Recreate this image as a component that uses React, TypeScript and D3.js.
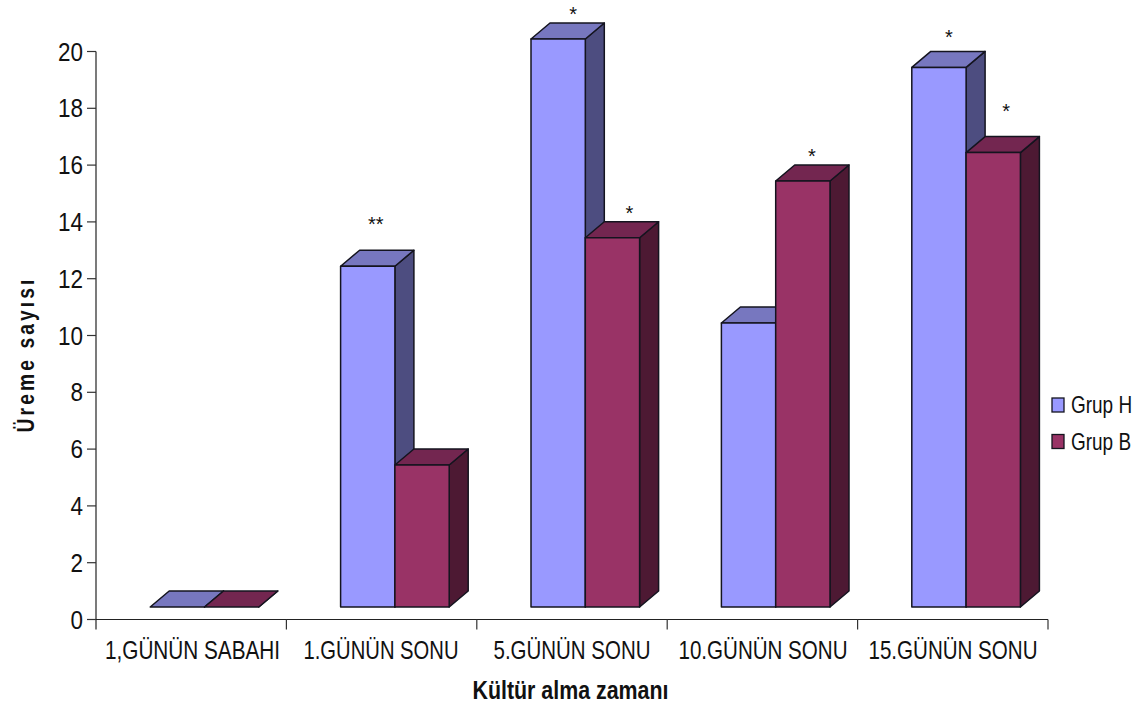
import React from "react";
import * as d3 from "d3";

const categories = ["1,GÜNÜN SABAHI", "1.GÜNÜN SONU", "5.GÜNÜN SONU", "10.GÜNÜN SONU", "15.GÜNÜN SONU"];
const categoryLabelWidths = [175, 155, 157, 169, 169];
const categoryLabelCentres = [192.5, 381, 572, 763, 953];
const grupH = [0, 12, 20, 10, 19];
const grupB = [0, 5, 13, 15, 16];
const marksH = ["", "**", "*", "", "*"];
const marksB = ["", "", "*", "*", "*"];
// Hand placement of the significance marks relative to the column's front-top centre.
const markShiftXH = [0, 8, 15, 0, 10];
const markShiftXB = [0, 0, 17, 9, 13];
const markRiseH = [0, 46, 29, 0, 34];
const markRiseB = [0, 0, 29, 29, 46];
const yTicks = [0, 2, 4, 6, 8, 10, 12, 14, 16, 18, 20];

const series = [
  { name: "Grup H", values: grupH, marks: marksH, shift: markShiftXH, rise: markRiseH, front: "#9999ff", top: "#7777bf", side: "#4d4d80" },
  { name: "Grup B", values: grupB, marks: marksB, shift: markShiftXB, rise: markRiseB, front: "#993366", top: "#732650", side: "#4d1933" },
];

const FONT = "'Liberation Sans', Arial, sans-serif";
const STROKE = "#14141f";
const DEPTH_X = 19;
const DEPTH_Y = 16;
const FLOOR_LIFT = 12.5;
const BAR_W = 54.3;
const BAR_INSET = 54.2;

const y = d3.scaleLinear().domain([0, 20]).range([619.5, 51.5]);
const x = d3.scaleBand<string>().domain(categories).range([96, 1048]).padding(0);

function poly(points: [number, number][]) {
  return points.map((p) => p.join(",")).join(" ");
}

export default function App() {
  const left = x.range()[0];
  const right = x.range()[1];
  const y0 = y(0);
  return (
    <svg
      width={1138}
      height={708}
      style={{ position: "absolute", left: 0, top: 0, background: "#fff" }}
      fontFamily={FONT}
    >
      {/* value axis */}
      <line x1={left} x2={left} y1={y(20)} y2={y0 + 10} stroke="#222" strokeWidth={1.2} />
      {yTicks.map((t) => (
        <g key={t}>
          <line x1={left - 9} x2={left} y1={y(t)} y2={y(t)} stroke="#333" strokeWidth={1.2} />
          <text x={left - 13} y={y(t) + 9} fontSize={25} textAnchor="end" fill="#111" textLength={t >= 10 ? 25 : 12.5} lengthAdjust="spacingAndGlyphs">
            {t}
          </text>
        </g>
      ))}

      {/* category axis */}
      <line x1={left} x2={right} y1={y0} y2={y0} stroke="#222" strokeWidth={1.2} />
      {categories.map((c, i) => (
        <g key={c}>
          <line x1={x(c)! + x.bandwidth()} x2={x(c)! + x.bandwidth()} y1={y0} y2={y0 + 10} stroke="#333" strokeWidth={1.2} />
          <text
            x={categoryLabelCentres[i]}
            y={659}
            fontSize={25}
            textAnchor="middle"
            fill="#111"
            textLength={categoryLabelWidths[i]}
            lengthAdjust="spacingAndGlyphs"
          >
            {c}
          </text>
        </g>
      ))}

      {/* 3D columns: side and top faces first, then the front, left series under right */}
      {series.map((s, si) =>
        categories.map((c, i) => {
          const x0 = x(c)! + BAR_INSET + si * BAR_W;
          const x1 = x0 + BAR_W;
          const base = y0 - FLOOR_LIFT;
          const top = y(s.values[i]) - FLOOR_LIFT;
          const sideFace: [number, number][] = [
            [x1, top],
            [x1 + DEPTH_X, top - DEPTH_Y],
            [x1 + DEPTH_X, base - DEPTH_Y],
            [x1, base],
          ];
          const topFace: [number, number][] = [
            [x0, top],
            [x0 + DEPTH_X, top - DEPTH_Y],
            [x1 + DEPTH_X, top - DEPTH_Y],
            [x1, top],
          ];
          return (
            <g key={s.name + c} stroke={STROKE} strokeWidth={1.5} strokeLinejoin="round">
              <polygon points={poly(sideFace)} fill={s.side} />
              <polygon points={poly(topFace)} fill={s.top} />
              {s.values[i] > 0 && <rect x={x0} y={top} width={BAR_W} height={base - top} fill={s.front} />}
            </g>
          );
        })
      )}

      {/* significance marks above the columns */}
      {series.map((s, si) =>
        categories.map((c, i) =>
          s.marks[i] ? (
            <text
              key={s.name + c + "mark"}
              x={x(c)! + BAR_INSET + si * BAR_W + BAR_W / 2 + s.shift[i]}
              y={y(s.values[i]) - FLOOR_LIFT - s.rise[i] + 11}
              fontSize={20}
              textAnchor="middle"
              fill="#111"
            >
              {s.marks[i]}
            </text>
          ) : null
        )
      )}

      {/* legend */}
      {series.map((s, si) => (
        <g key={s.name}>
          <rect x={1052} y={398 + si * 36.5} width={12} height={14} fill={s.front} stroke={STROKE} strokeWidth={1.3} />
          <text transform={`translate(1071,${413 + si * 36.5}) scale(0.825,1)`} fontSize={23} fill="#111">
            {s.name}
          </text>
        </g>
      ))}

      {/* axis titles */}
      <text x={570.5} y={698.5} fontSize={25} fontWeight="bold" textAnchor="middle" fill="#111" textLength={196} lengthAdjust="spacingAndGlyphs">
        Kültür alma zamanı
      </text>
      <text
        transform="translate(34,356) rotate(-90) scale(0.8,1)"
        fontSize={24}
        fontWeight="bold"
        textAnchor="middle"
        fill="#111"
        textLength={191}
        lengthAdjust="spacing"
      >
        Üreme sayısı
      </text>
    </svg>
  );
}
